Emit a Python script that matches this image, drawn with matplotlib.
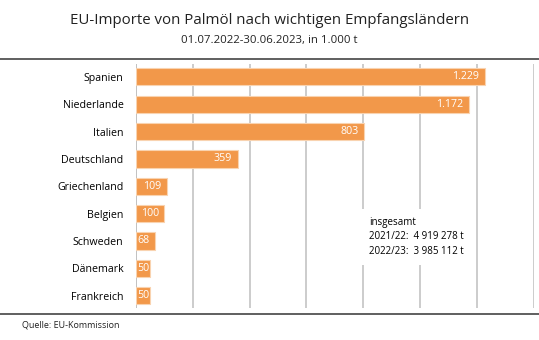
import matplotlib.pyplot as plt
import matplotlib
from matplotlib.lines import Line2D

matplotlib.rcParams['font.family'] = ['Open Sans', 'DejaVu Sans']

laender = ['Spanien', 'Niederlande', 'Italien', 'Deutschland', 'Griechenland',
           'Belgien', 'Schweden', 'Dänemark', 'Frankreich']
werte = [1229, 1172, 803, 359, 109, 100, 68, 50, 50]
labels = ['1.229', '1.172', '803', '359', '109', '100', '68', '50', '50']
ticks = [0, 200, 400, 600, 800, 1000, 1200, 1400]

W, H = 539, 340
fig = plt.figure(figsize=(W / 100, H / 100), dpi=100)
ax = fig.add_axes([136 / W, 1 - 308 / H, 397.6 / W, 244 / H])

y = list(range(len(laender)))
ax.barh(y, werte, height=0.63, color='#F2984A', edgecolor='#F9D3B0', linewidth=0.8, zorder=3)
for i, (v, t) in enumerate(zip(werte, labels)):
    ax.text(max(v - 20, 46), i, t, color='white', fontsize=7.7, ha='right', va='center', zorder=4)

ax.set_xlim(0, 1400)
ax.set_ylim(8.45, -0.47)
ax.set_xticks(ticks)
ax.set_yticks(y)
ax.set_yticklabels(laender, fontsize=7.7)
ax.tick_params(axis='x', length=0, labelbottom=False)
ax.tick_params(axis='y', length=0, pad=9)
ax.grid(axis='x', color='#c4c4c4', linewidth=1.2, zorder=0)
for s in ax.spines.values():
    s.set_visible(False)
ax.axvline(0, color='#b0b0b0', linewidth=1.2, zorder=1)

# Kasten mit Summen
ax.text(820, 5.85, 'insgesamt\n2021/22:  4 919 278 t\n2022/23:  3 985 112 t',
        fontsize=7, va='center', ha='left', linespacing=1.4, zorder=5,
        bbox=dict(facecolor='white', edgecolor='none', pad=6))

fig.text(0.5, 1 - 20 / H, 'EU-Importe von Palmöl nach wichtigen Empfangsländern',
         ha='center', va='center', fontsize=10.8, color='#222222')
fig.text(0.5, 1 - 41 / H, '01.07.2022-30.06.2023, in 1.000 t',
         ha='center', va='center', fontsize=8.2, color='#222222')
fig.add_artist(Line2D([0, 1], [1 - 59 / H, 1 - 59 / H], color='#444444', linewidth=1.2))
fig.add_artist(Line2D([0, 1], [1 - 314 / H, 1 - 314 / H], color='#444444', linewidth=1.2))
fig.text(22 / W, 1 - 325 / H, 'Quelle: EU-Kommission', ha='left', va='center',
         fontsize=6.5, color='#222222')

fig.savefig('out.png', dpi=100)
